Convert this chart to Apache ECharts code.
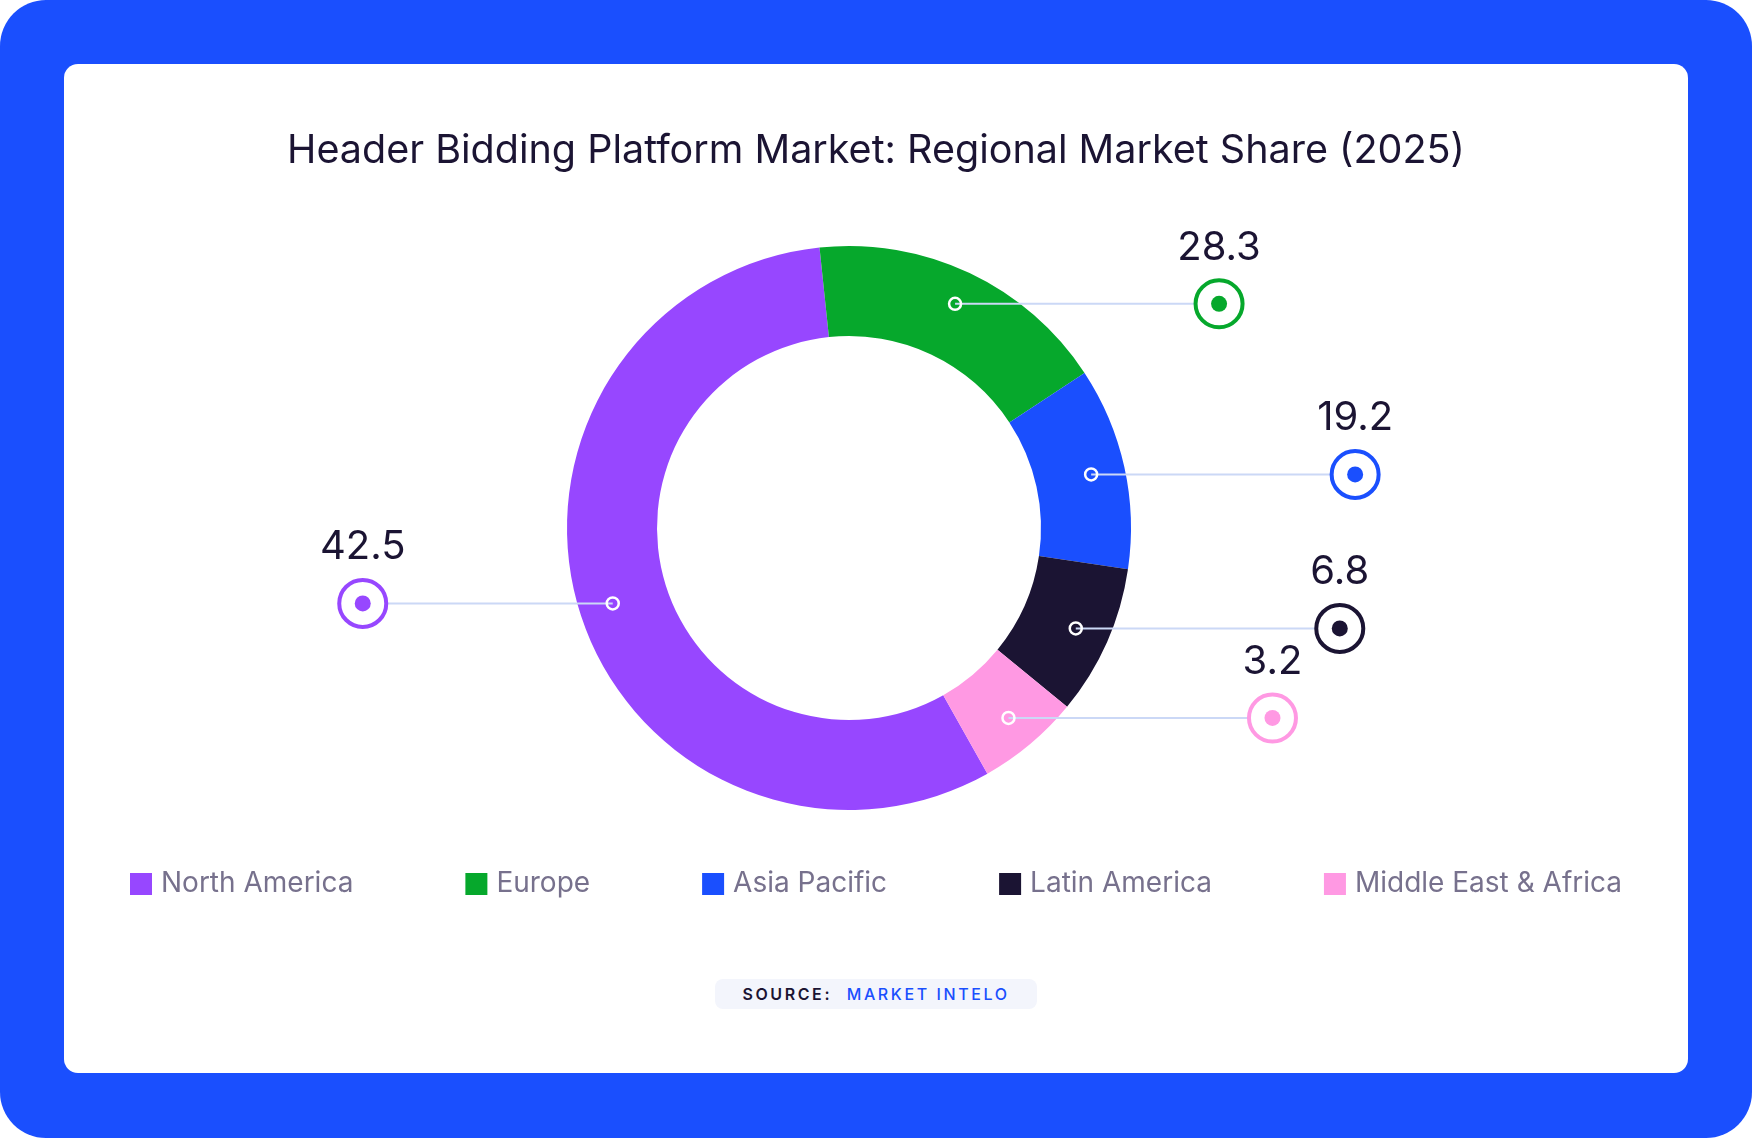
<!DOCTYPE html>
<html>
<head>
<meta charset="utf-8">
<title>Header Bidding Platform Market: Regional Market Share (2025)</title>
<script src="https://cdn.jsdelivr.net/npm/echarts@6/dist/echarts.min.js"></script>
<style>
  html, body { margin: 0; padding: 0; background: #ffffff; }
  .frame {
    position: absolute; left: 0; top: 0; width: 1752px; height: 1138px;
    background: #1a4ffe; border-radius: 46px;
  }
  .card {
    position: absolute; left: 64px; top: 64px; width: 1624px; height: 1009px;
    background: #ffffff; border-radius: 14px;
  }
  #chart { position: absolute; left: 0; top: 0; width: 1752px; height: 1138px; }
  .source {
    position: absolute; left: 715px; top: 979px; width: 322px; height: 30px;
    background: #f3f5fc; border-radius: 8px;
    font-family: Inter, "Noto Sans", sans-serif; font-size: 16px; font-weight: 600;
    letter-spacing: 2.6px; line-height: 30px; text-align: center; color: #1b1433;
  }
  .source span { color: #1a4ffe; font-weight: 500; margin-left: 8px; }
</style>
</head>
<body>
<div class="frame"></div>
<div class="card"></div>
<div id="chart"></div>
<div class="source">SOURCE: <span>MARKET INTELO</span></div>
<script>
// 数据
const regions = ['North America', 'Europe', 'Asia Pacific', 'Latin America', 'Middle East & Africa'];
// printed share labels (%)
const shares = [42.5, 28.3, 19.2, 6.8, 3.2];
// slice sizes as drawn in the picture (% of the ring)
const arcShares = [56.5, 17.4, 11.6, 8.6, 5.9];
const colors = ['#9747ff', '#06a82c', '#1a4ffe', '#1b1433', '#ff99e3'];

// 布局
const CENTER = [849, 528];
const R_IN = 192;
const R_OUT = 282;
const R_ANCHOR = 248;
const START_ANGLE = 299.4;
const FONT = 'Inter, "Noto Sans", sans-serif';
const DARK = '#1b1433';

const total = arcShares.reduce((a, b) => a + b, 0);

// mid angle (deg) of slice i, same rule as the pie (clockwise from START_ANGLE)
function midAngle(i) {
  let before = 0;
  for (let k = 0; k < i; k++) before += arcShares[k];
  return START_ANGLE - (before + arcShares[i] / 2) / total * 360;
}

function renderCallout(params, api) {
  const i = params.dataIndex;
  const rad = midAngle(i) * Math.PI / 180;
  const ax = CENTER[0] + R_ANCHOR * Math.cos(rad);
  const ay = CENTER[1] - R_ANCHOR * Math.sin(rad);
  const right = Math.cos(rad) >= 0;
  const mx = right ? ax + 264 : ax - 250;
  const color = colors[i];
  return {
    type: 'group',
    children: [
      {
        type: 'line',
        shape: { x1: ax, y1: ay, x2: mx, y2: ay },
        style: { stroke: '#cbd8f6', lineWidth: 2 }
      },
      {
        type: 'circle',
        shape: { cx: ax, cy: ay, r: 6 },
        style: { fill: 'none', stroke: '#ffffff', lineWidth: 2.5 }
      },
      {
        type: 'circle',
        shape: { cx: mx, cy: ay, r: 23.5 },
        style: { fill: '#ffffff', stroke: color, lineWidth: 4 }
      },
      {
        type: 'circle',
        shape: { cx: mx, cy: ay, r: 8 },
        style: { fill: color }
      },
      {
        type: 'text',
        x: mx,
        y: ay - 56,
        style: {
          text: String(api.value(0)),
          fill: DARK,
          font: '400 40px ' + FONT,
          align: 'center',
          verticalAlign: 'middle'
        }
      }
    ]
  };
}

const chart = echarts.init(document.getElementById('chart'), null, { renderer: 'canvas' });

chart.setOption({
  animation: false,
  color: colors,
  title: {
    text: 'Header Bidding Platform Market: Regional Market Share (2025)',
    left: 'center',
    top: 126,
    textStyle: { fontFamily: FONT, fontSize: 39.5, fontWeight: 400, color: DARK }
  },
  legend: {
    data: regions,
    left: 'center',
    top: 865,
    icon: 'rect',
    itemWidth: 22,
    itemHeight: 22,
    itemGap: 112,
    selectedMode: false,
    textStyle: { fontFamily: FONT, fontSize: 28, color: '#77718d', padding: [0, 0, 0, 4] }
  },
  series: [
    {
      type: 'pie',
      center: CENTER,
      radius: [R_IN, R_OUT],
      startAngle: START_ANGLE,
      clockwise: true,
      silent: true,
      label: { show: false },
      labelLine: { show: false },
      itemStyle: { borderWidth: 0 },
      data: regions.map((name, i) => ({ name: name, value: arcShares[i] }))
    },
    {
      type: 'custom',
      coordinateSystem: 'none',
      silent: true,
      z: 5,
      renderItem: renderCallout,
      data: shares
    }
  ]
});
</script>
</body>
</html>
